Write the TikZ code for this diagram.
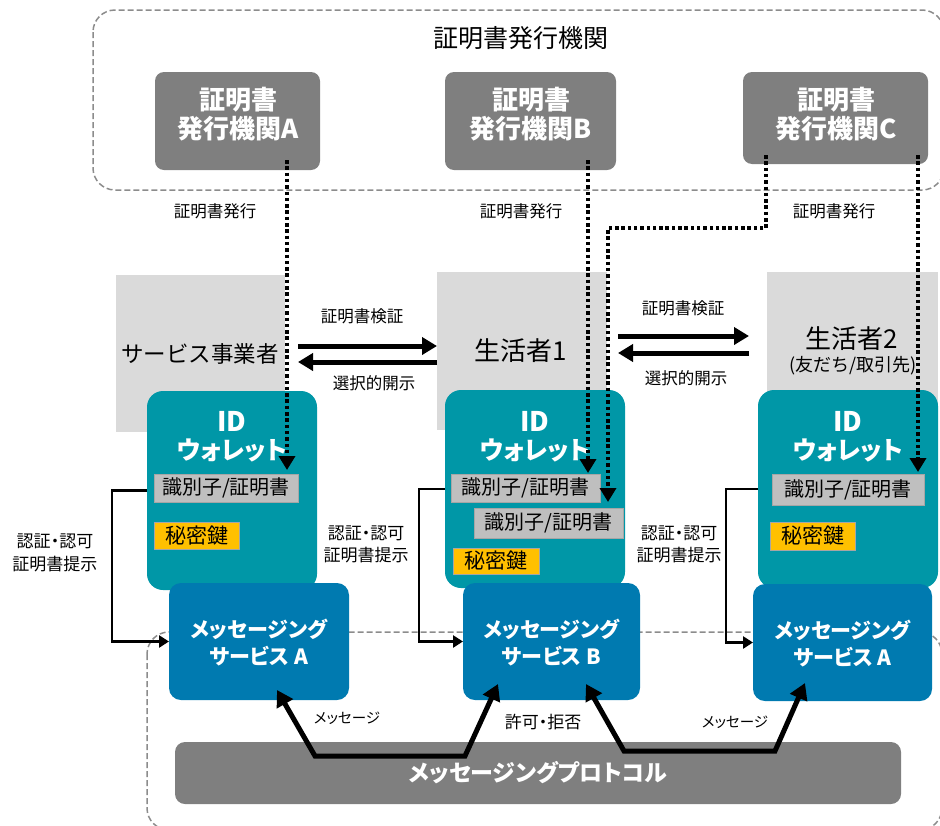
\documentclass[tikz,border=0pt]{standalone}
\usepackage{fontspec}
\setmainfont{Noto Sans CJK JP}
\newfontfamily\pfont{Noto Sans CJK JP}[RawFeature=+palt]
\usetikzlibrary{arrows.meta,calc}
\definecolor{issgray}{HTML}{7F7F7F}
\definecolor{lightbox}{HTML}{DADADA}
\definecolor{walletc}{HTML}{0097A7}
\definecolor{msgc}{HTML}{007AB0}
\definecolor{idgray}{HTML}{BFBFBF}
\definecolor{idborder}{HTML}{A6A6A6}
\definecolor{keyy}{HTML}{FFC000}
\definecolor{dashgray}{HTML}{8C8C8C}
\newcommand\fsz[2]{\fontsize{#1}{#2}\selectfont}
\begin{document}
\begin{tikzpicture}[x=1pt,y=-1pt,
  box/.style={rectangle, inner sep=0pt, outer sep=0pt},
  issbox/.style={box, fill=issgray, rounded corners=9pt},
  lbox/.style={box, fill=lightbox},
  wbox/.style={box, fill=walletc, rounded corners=16pt},
  idbox/.style={box, fill=idgray, draw=idborder, line width=1pt, font=\fsz{20}{24}},
  keybox/.style={box, fill=keyy, draw=idborder, line width=1pt, font=\fsz{21}{24}},
  mbox/.style={box, fill=msgc, rounded corners=12pt, text=white, font=\pfont\bfseries\fsz{21}{27}, align=center},
  barbox/.style={box, fill=issgray, rounded corners=10pt, text=white, font=\pfont\bfseries\fsz{23}{26}},
  dotarrow/.style={line width=4pt, dash pattern=on 3.5pt off 2.8pt, -{Triangle[length=14pt,width=16pt]}},
  bigarrow/.style={line width=5pt, -{Triangle[length=15pt,width=17pt]}},
  msgarrow/.style={line width=5pt, line join=miter, {Triangle[length=16pt,width=18pt]}-{Triangle[length=16pt,width=18pt]}},
  conn/.style={line width=2.5pt, -{Triangle[length=10pt,width=12pt]}},
  dashbox/.style={draw=dashgray, line width=1.5pt, dash pattern=on 6pt off 3pt, rounded corners=22pt},
  lab/.style={font=\fsz{16.5}{20}},
  slab/.style={font=\pfont\fsz{17}{22.5}, align=center},
  mlab/.style={font=\pfont\fsz{14.5}{16}},
  isstext/.style={text=white, font=\bfseries\fsz{26}{29}, align=center},
  wtext/.style={text=white, font=\pfont\bfseries\fsz{25}{28}}
]
\useasboundingbox (0,0) rectangle (940,825);

% dashed group frames
\draw[dashbox] (93,10) rectangle (944,190);
\draw[dashbox] (147,632) rectangle (942,830);
\node[font=\fsz{25}{28}] (title) at (521,38) {証明書発行機関};

% issuers
\node[issbox, minimum width=165pt, minimum height=98pt] (issA) at (237.5,121) {};
\node[issbox, minimum width=171pt, minimum height=98pt] (issB) at (530.5,121) {};
\node[issbox, minimum width=185pt, minimum height=92pt] (issC) at (835.5,118) {};
\node[isstext] (issAt) at (238,114) {証明書\\発行機関A};
\node[isstext] (issBt) at (531,114) {証明書\\発行機関B};
\node[isstext] (issCt) at (836,114) {証明書\\発行機関C};
\node[lab] (iss1) at (215,211) {証明書発行};
\node[lab] (iss2) at (521,211) {証明書発行};
\node[lab] (iss3) at (834,211) {証明書発行};

% actors
\node[lbox, minimum width=169pt, minimum height=157pt] (svc) at (200.5,353.5) {};
\node[lbox, minimum width=170pt, minimum height=158pt] (con1) at (522,351) {};
\node[lbox, minimum width=171pt, minimum height=158pt] (con2) at (852.5,351) {};
\node[font=\fsz{22.5}{26}] (svct) at (200,354) {サービス事業者};
\node[font=\fsz{26}{28}] (con1t) at (521,351) {生活者1};
\node[font=\fsz{26}{28}] (con2t) at (852,339) {生活者2};
\node[font=\fsz{18}{20}] (con2s) at (853,366) {(友だち/取引先)};

% verification arrows
\coordinate (v1s) at ($(svc.east)+(0,-7.5)$);
\coordinate (v2s) at ($(con1.west)+(0,11)$);
\draw[bigarrow, shorten <=13pt] (v1s) -- (v1s -| con1.west);
\draw[bigarrow, shorten >=13pt] (v2s) -- (v2s -| svc.east);
\coordinate (v3s) at ($(con1.east)+(0,-15)$);
\coordinate (v4s) at ($(con2.west)+(0,2)$);
\draw[bigarrow, shorten <=11pt, shorten >=18pt] (v3s) -- (v3s -| con2.west);
\draw[bigarrow, shorten <=18pt, shorten >=11pt] (v4s) -- (v4s -| con1.east);
\node[lab] (vl1) at (362,316) {証明書検証};
\node[lab] (vl2) at (374,383) {選択的開示};
\node[lab] (vl3) at (683,308) {証明書検証};
\node[lab] (vl4) at (686,378) {選択的開示};

% wallets
\node[wbox, minimum width=170pt, minimum height=199pt] (w1) at (232,490.5) {};
\node[wbox, minimum width=180pt, minimum height=198pt] (w2) at (535,489) {};
\node[wbox, minimum width=180pt, minimum height=198pt] (w3) at (848,489) {};
\foreach \n/\x in {w1/232, w2/535, w3/848}{
  \node[text=white, font=\bfseries\fsz{27}{28}] (\n id) at (\x,421) {ID};
  \node[wtext] (\n wl) at (\x,450) {ウォレット};
}
\node[idbox, minimum width=144pt, minimum height=28pt] (idA) at (226,488) {識別子/証明書};
\node[idbox, minimum width=149pt, minimum height=28pt] (idB1) at (525.5,488) {識別子/証明書};
\node[idbox, minimum width=149pt, minimum height=30pt] (idB2) at (548.5,523) {識別子/証明書};
\node[idbox, minimum width=152pt, minimum height=31pt] (idC) at (848,489.5) {識別子/証明書};
\node[keybox, minimum width=85pt, minimum height=27pt] (keyA) at (196.5,535.5) {秘密鍵};
\node[keybox, minimum width=86pt, minimum height=26pt] (keyB) at (496,561) {秘密鍵};
\node[keybox, minimum width=85pt, minimum height=28pt] (keyC) at (812.5,536) {秘密鍵};

% messaging protocol bar
\node[barbox, minimum width=726pt, minimum height=62pt] (bar) at (538,773) {メッセージングプロトコル};

% messaging services
\node[mbox, minimum width=180pt, minimum height=117pt] (mA) at (259,641.5) {};
\node[mbox, minimum width=177pt, minimum height=117pt] (mB) at (551.5,641.5) {};
\node[mbox, minimum width=179pt, minimum height=117pt] (mC) at (842.5,642.5) {};
\node[mbox] (mAt) at (259,643) {メッセージング\\サービス A};
\node[mbox] (mBt) at (551.5,643) {メッセージング\\サービス B};
\node[mbox] (mCt) at (842.5,644) {メッセージング\\サービス A};

% authentication connectors
\draw[conn] (w1.west) -- ++(-35,0) |- (mA.west);
\draw[conn] (w2.west) -- ++(-26,0) |- (mB.west);
\draw[conn] (w3.west) -- ++(-32,0) |- (mC.west);
\node[slab] (al1) at (55,553) {認証・認可\\証明書提示};
\node[slab] (al2) at (366,544.5) {認証・認可\\証明書提示};
\node[slab] (al3) at (679,544.5) {認証・認可\\証明書提示};

% certificate issuance (dotted)
\draw[dotarrow] ($(issA.south east)+(-33,-10)$) -- ($(idA.north east)+(-11,-4)$);
\draw[dotarrow] ($(issB.south east)+(-28,-10)$) -- ($(idB1.north east)+(-12,-1)$);
\coordinate (c3s) at ($(issC.south west)+(23,-9)$);
\coordinate (c3e) at ($(idB2.north west)+(134,-6)$);
\coordinate (c3m) at (608,228);
\draw[dotarrow] (c3s) |- (c3m) -- (c3e);
\draw[dotarrow] ($(issC.south east)+(-10,-9)$) -- ($(idC.north east)+(-6,-2)$);

% message flows
\coordinate (p1a) at ($(mA.south)+(18,-10)$);
\coordinate (p1b) at (315,756);
\coordinate (p1c) at (465,756);
\coordinate (p1d) at ($(mB.south west)+(35,-16)$);
\draw[msgarrow] (p1a) -- (p1b) -- (p1c) -- (p1d);
\coordinate (p2a) at ($(mB.south west)+(123,-16)$);
\coordinate (p2b) at (624,751);
\coordinate (p2c) at (775,751);
\coordinate (p2d) at ($(mC.south west)+(52,-18)$);
\draw[msgarrow] (p2a) -- (p2b) -- (p2c) -- (p2d);
\node[mlab] (ml1) at (347,718) {メッセージ};
\node[font=\pfont\fsz{17}{18}] (ml2) at (543,722) {許可・拒否};
\node[mlab] (ml3) at (735,722) {メッセージ};
\end{tikzpicture}
\end{document}
